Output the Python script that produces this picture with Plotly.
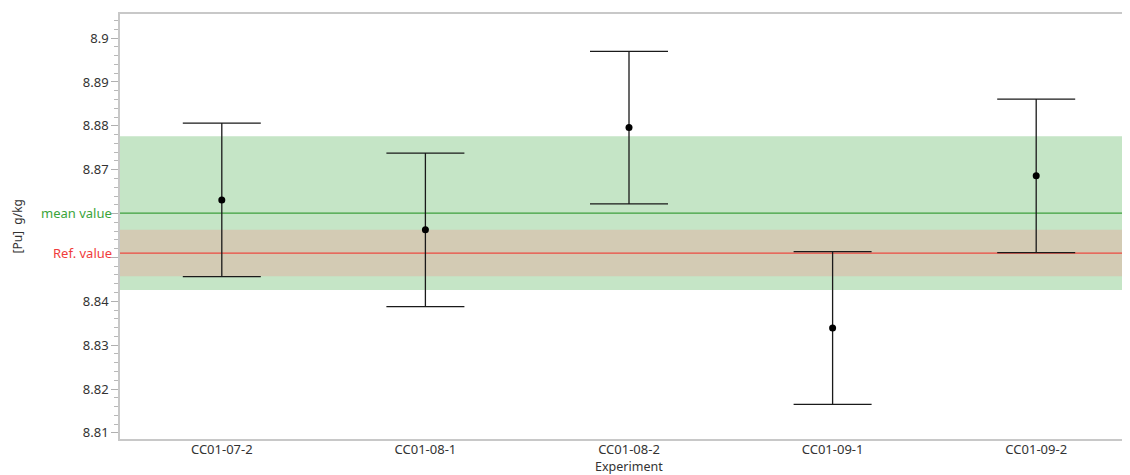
import plotly.graph_objects as go

experiments = ["CC01-07-2", "CC01-08-1", "CC01-08-2", "CC01-09-1", "CC01-09-2"]
pu_values = [8.8631, 8.8563, 8.8796, 8.8339, 8.8686]
pu_errors = [0.0175, 0.0175, 0.0174, 0.0174, 0.0175]
mean_value = 8.8601
mean_band = 0.0175
ref_value = 8.8510
ref_band = 0.0053
y_ticks = [8.81, 8.82, 8.83, 8.84, 8.85, 8.86, 8.87, 8.88, 8.89, 8.9]
y_tick_labels = ["8.81", "8.82", "8.83", "8.84", "", "", "8.87", "8.88", "8.89", "8.9"]

FONT = "Noto Sans"
TXT = "#333333"

fig = go.Figure()
fig.add_trace(go.Scatter(
    x=experiments, y=pu_values, mode="markers",
    marker=dict(color="black", size=7),
    error_y=dict(type="data", array=pu_errors, visible=True,
                 color="#1a1a1a", thickness=1.3, width=39),
    showlegend=False, hoverinfo="x+y",
))

shapes = [
    dict(type="rect", xref="paper", yref="y", x0=0, x1=1,
         y0=mean_value - mean_band, y1=mean_value + mean_band,
         fillcolor="#c5e5c6", line=dict(width=0), layer="below"),
    dict(type="rect", xref="paper", yref="y", x0=0, x1=1,
         y0=ref_value - ref_band, y1=ref_value + ref_band,
         fillcolor="#d3cbb4", line=dict(width=0), layer="below"),
    dict(type="line", xref="paper", yref="y", x0=0, x1=1,
         y0=mean_value, y1=mean_value,
         line=dict(color="#3c9f3c", width=1.3), layer="below"),
    dict(type="line", xref="paper", yref="y", x0=0, x1=1,
         y0=ref_value, y1=ref_value,
         line=dict(color="#ec4a40", width=1.3), layer="below"),
]

annotations = [
    dict(xref="paper", yref="y", x=0, y=mean_value, text="mean value",
         showarrow=False, xanchor="right", xshift=-6,
         font=dict(family=FONT, size=13, color="#3aa43a")),
    dict(xref="paper", yref="y", x=0, y=ref_value, text="Ref. value",
         showarrow=False, xanchor="right", xshift=-6,
         font=dict(family=FONT, size=13, color="#f03c3c")),
    dict(xref="paper", yref="paper", x=0.5, y=0, text="Experiment",
         showarrow=False, xanchor="center", yanchor="top", yshift=-17,
         font=dict(family=FONT, size=12.5, color=TXT)),
    dict(xref="paper", yref="paper", x=0, y=0.5, text="[Pu]  g/kg",
         showarrow=False, xanchor="center", yanchor="middle", xshift=-103,
         textangle=-90, font=dict(family=FONT, size=12, color=TXT)),
]

fig.update_layout(
    width=1130, height=475,
    margin=dict(l=112, r=0, t=6, b=44, autoexpand=False),
    paper_bgcolor="white", plot_bgcolor="white",
    font=dict(family=FONT, size=13, color=TXT),
    shapes=shapes, annotations=annotations,
    xaxis=dict(
        range=[-0.5, 4.5], showgrid=False, zeroline=False, automargin=False,
        showline=True, linecolor="#c8c8c8", linewidth=1.5, mirror=True,
        ticks="", ticklabelstandoff=-2,
        tickfont=dict(family=FONT, size=13, color=TXT),
    ),
    yaxis=dict(
        range=[8.8086, 8.9055], showgrid=False, zeroline=False, automargin=False,
        showline=True, linecolor="#c8c8c8", linewidth=1.5,
        tickmode="array", tickvals=y_ticks, ticktext=y_tick_labels,
        ticks="outside", ticklen=7, tickcolor="#b0b0b0", tickwidth=1,
        minor=dict(dtick=0.002, ticks="outside", ticklen=4,
                   tickcolor="#b8b8b8", tickwidth=1),
        tickfont=dict(family=FONT, size=13, color=TXT),
    ),
)

fig.write_html("out.html")
